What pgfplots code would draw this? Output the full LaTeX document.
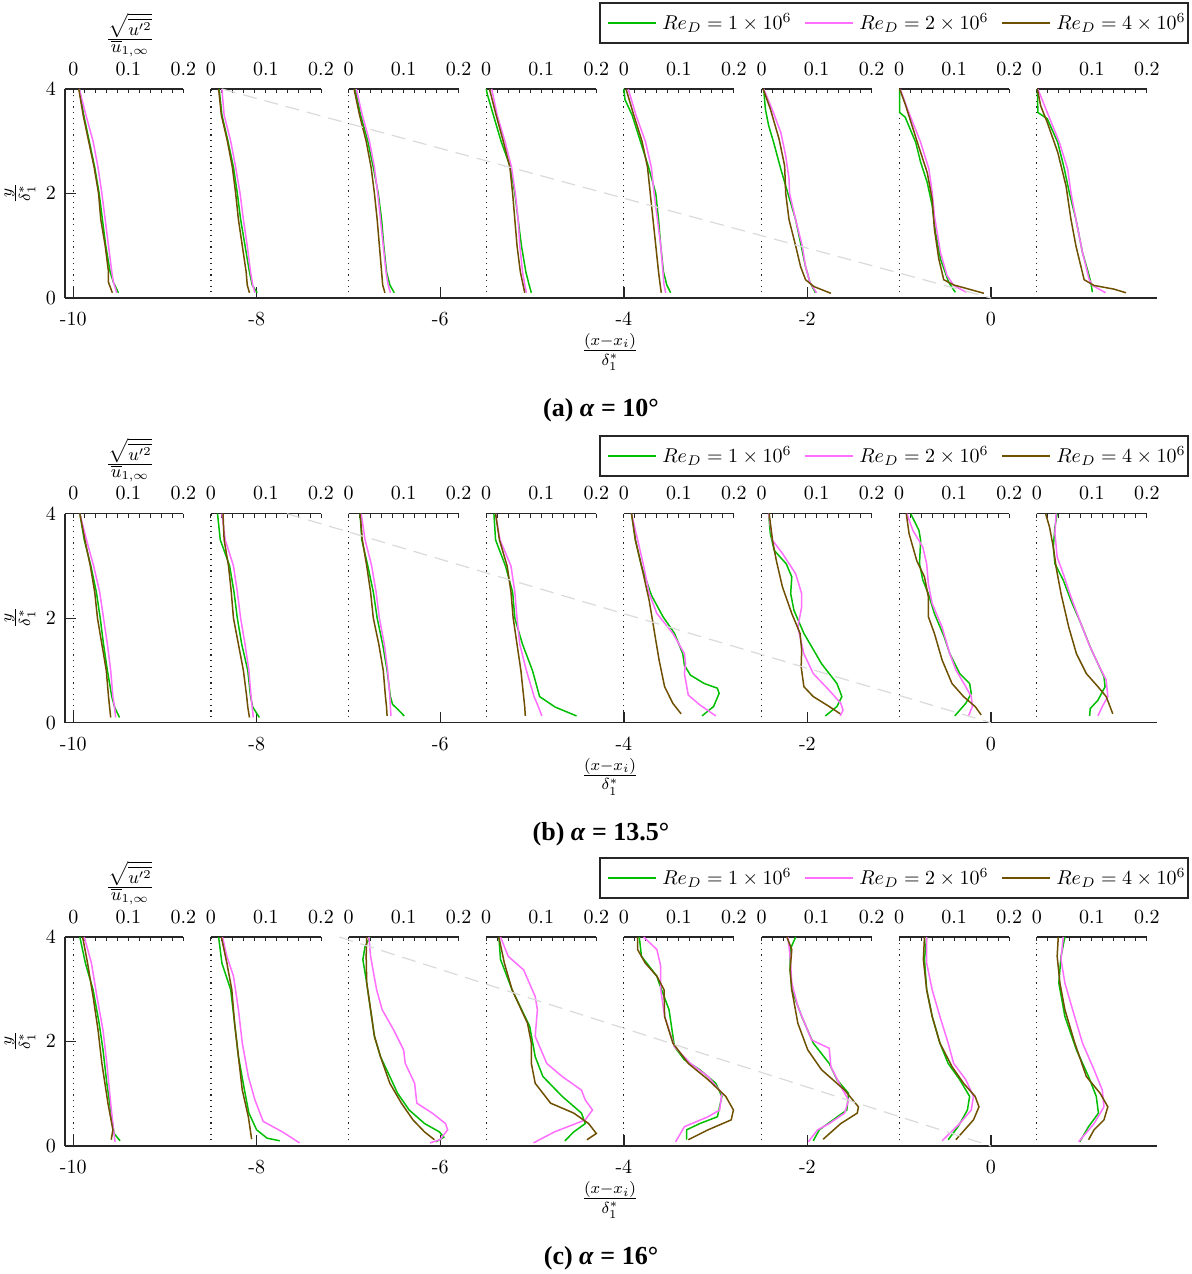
\documentclass[border=0pt]{standalone}
\usepackage{fontspec}
\newfontfamily\capfont{Liberation Serif}
\usepackage{pgfplots}
\pgfplotsset{compat=1.18}
\definecolor{cG}{RGB}{0,190,0}
\definecolor{cM}{RGB}{255,110,255}
\definecolor{cB}{RGB}{110,80,0}
\definecolor{axc}{RGB}{38,38,38}
\definecolor{dsh}{RGB}{218,218,218}
\newcommand\hy{\mathchar"02D\relax}
\newcommand\capstyle{\capfont\bfseries\fontsize{13}{15}\selectfont}
\pgfplotsset{
  st/.style={x filter/.code={\pgfmathparse{#1+6*\pgfmathresult}}},
  lG/.style={color=cG, line width=0.75pt},
  lM/.style={color=cM, line width=0.75pt},
  lB/.style={color=cB, line width=0.75pt},
  panel/.style={
    scale only axis, width=546pt, height=104.5pt,
    xmin=-10.09, xmax=1.81, ymin=0, ymax=4,
    axis lines=left, axis line style={-, axc, line width=0.65pt},
    tick align=inside, major tick length=5.5pt, tick style={axc, line width=0.65pt},
    xtick={-10,-8,-6,-4,-2,0},
    xticklabels={$\hy10$,$\hy8$,$\hy6$,$\hy4$,$\hy2$,$0$},
    ytick={0,2,4},
    xticklabel style={yshift=-4pt}, yticklabel style={xshift=-1pt},
    clip=false,
  },
}
\newcommand\station[4]{%
  \addplot[lG, forget plot, st=#1] coordinates {#2};
  \addplot[lM, forget plot, st=#1] coordinates {#3};
  \addplot[lB, forget plot, st=#1] coordinates {#4};
}
\newcommand\decor{%
  \draw[axc, line width=0.65pt] (axis cs:-10.09,4) -- (axis cs:-10,4);
  \pgfplotsforeachungrouped \xo in {-10,-8.5,-7,-5.5,-4,-2.5,-1,0.5}{%
    \pgfmathsetmacro\xb{\xo+0.6}%
    \pgfmathsetmacro\xc{\xo+1.2}%
    \edef\mytmp{\noexpand\draw[axc, line width=0.6pt, dash pattern=on 0.6pt off 2.2pt] (axis cs:\xo,0) -- (axis cs:\xo,4);
      \noexpand\draw[axc, line width=0.65pt] (axis cs:\xo,4) -- (axis cs:\xc,4);
      \noexpand\node[anchor=base, yshift=7pt] at (axis cs:\xo,4) {$0$};
      \noexpand\node[anchor=base, yshift=7pt] at (axis cs:\xb,4) {$0.1$};
      \noexpand\node[anchor=base, yshift=7pt] at (axis cs:\xc,4) {$0.2$};}%
    \mytmp
    \pgfplotsforeachungrouped \k in {0,1,2,3,4,5,6,7,8,9,10}{%
      \pgfmathsetmacro\xt{\xo+0.12*\k}%
      \edef\mytmp{\noexpand\draw[axc, line width=0.5pt] (axis cs:\xt,4) -- ++(0pt,-2pt);}%
      \mytmp}%
  }%
}
% legend box: #1 = vertical centre (pt)
\newcommand\legendbox[1]{%
  \draw[axc, line width=0.65pt, fill=white] (267.5pt,{#1pt-10pt}) rectangle (561.5pt,{#1pt+10pt});
  \draw[draw=cG, line width=0.75pt] (271.5pt,#1pt) -- (295.5pt,#1pt);
  \node[anchor=west, inner sep=0pt] at (298.5pt,#1pt) {$Re_D = 1\times10^6$};
  \draw[draw=cM, line width=0.75pt] (370pt,#1pt) -- (394pt,#1pt);
  \node[anchor=west, inner sep=0pt] at (397pt,#1pt) {$Re_D = 2\times10^6$};
  \draw[draw=cB, line width=0.75pt] (468.5pt,#1pt) -- (492.5pt,#1pt);
  \node[anchor=west, inner sep=0pt] at (495.5pt,#1pt) {$Re_D = 4\times10^6$};
}
\begin{document}
\begin{tikzpicture}
\useasboundingbox (-32.5pt,-488pt) rectangle (563pt,149pt);
% ---------------- panel (a)
\begin{axis}[panel, at={(0pt,0pt)}]
\decor
\station{-10}
{(0.011,4) (0.019,3.5) (0.029,3) (0.039,2.5) (0.047,2) (0.053,1.5) (0.059,1) (0.067,0.5) (0.073,0.3) (0.082,0.1)}
{(0.011,4) (0.023,3.5) (0.036,3) (0.045,2.5) (0.052,2) (0.058,1.5) (0.064,1) (0.070,0.5) (0.073,0.3) (0.079,0.1)}
{(0.010,4) (0.018,3.5) (0.028,3) (0.038,2.5) (0.046,2) (0.050,1.5) (0.058,1) (0.064,0.5) (0.064,0.3) (0.071,0.1)}
\station{-8.5}
{(0.015,4) (0.020,3.5) (0.031,3) (0.041,2.5) (0.048,2) (0.054,1.5) (0.062,1) (0.070,0.5) (0.075,0.25) (0.084,0.1)}
{(0.020,4) (0.024,3.5) (0.036,3) (0.045,2.5) (0.053,2) (0.059,1.5) (0.066,1) (0.072,0.5) (0.076,0.25) (0.080,0.1)}
{(0.014,4) (0.019,3.5) (0.030,3) (0.039,2.5) (0.045,2) (0.050,1.5) (0.057,1) (0.064,0.5) (0.066,0.25) (0.070,0.1)}
\station{-7}
{(0.012,4) (0.022,3.5) (0.035,3) (0.045,2.5) (0.054,2) (0.060,1.5) (0.064,1) (0.069,0.5) (0.075,0.25) (0.083,0.1)}
{(0.014,4) (0.025,3.5) (0.038,3) (0.047,2.5) (0.053,2) (0.058,1.5) (0.063,1) (0.068,0.5) (0.072,0.25) (0.076,0.1)}
{(0.010,4) (0.020,3.5) (0.032,3) (0.041,2.5) (0.047,2) (0.052,1.5) (0.056,1) (0.060,0.5) (0.062,0.25) (0.066,0.1)}
\station{-5.5}
{(0.000,4) (0.002,3.9) (0.013,3.5) (0.027,3) (0.044,2.5) (0.052,2) (0.058,1.5) (0.064,1) (0.072,0.5) (0.078,0.25) (0.082,0.1)}
{(0.010,4) (0.020,3.5) (0.034,3) (0.046,2.5) (0.053,2) (0.058,1.5) (0.061,1) (0.066,0.5) (0.070,0.25) (0.073,0.1)}
{(0.006,4) (0.018,3.5) (0.031,3) (0.043,2.5) (0.048,2) (0.052,1.5) (0.056,1) (0.062,0.5) (0.067,0.25) (0.070,0.1)}
\station{-4}
{(0.000,4) (0.002,3.8) (0.015,3.5) (0.030,3) (0.045,2.5) (0.058,2) (0.063,1.5) (0.067,1) (0.072,0.5) (0.078,0.25) (0.085,0.1)}
{(0.008,4) (0.022,3.5) (0.039,3) (0.050,2.5) (0.055,2) (0.061,1.5) (0.067,1) (0.071,0.5) (0.073,0.25) (0.076,0.1)}
{(0.004,4) (0.018,3.5) (0.033,3) (0.043,2.5) (0.048,2) (0.053,1.5) (0.058,1) (0.063,0.5) (0.066,0.25) (0.068,0.1)}
\station{-2.5}
{(0.004,4) (0.007,3.62) (0.013,3.3) (0.022,2.98) (0.035,2.47) (0.048,2) (0.062,1.5) (0.072,1) (0.080,0.6) (0.088,0.3) (0.098,0.1)}
{(0.004,4) (0.019,3.62) (0.035,3.17) (0.044,2.72) (0.050,2.28) (0.051,2) (0.062,1.5) (0.074,1) (0.080,0.6) (0.088,0.3) (0.100,0.1)}
{(0.003,4) (0.016,3.62) (0.032,3.04) (0.042,2.53) (0.044,2) (0.050,1.5) (0.062,1) (0.071,0.6) (0.080,0.35) (0.095,0.22) (0.126,0.09)}
\station{-1}
{(0.001,4) (0.001,3.55) (0.011,3.46) (0.030,2.98) (0.039,2.6) (0.051,2.21) (0.060,1.77) (0.066,1.26) (0.075,0.75) (0.090,0.3) (0.102,0.11)}
{(0.002,4) (0.015,3.62) (0.039,2.98) (0.054,2.47) (0.060,2.02) (0.064,1.58) (0.075,0.87) (0.087,0.43) (0.099,0.24) (0.122,0.11)}
{(0.001,4) (0.012,3.68) (0.033,2.98) (0.051,2.4) (0.060,1.89) (0.064,1.32) (0.072,0.75) (0.081,0.35) (0.099,0.25) (0.154,0.09)}
\station{0.5}
{(0.001,4) (0.002,3.55) (0.019,3.43) (0.038,2.98) (0.050,2.47) (0.059,2.02) (0.071,1.51) (0.083,0.87) (0.095,0.43) (0.098,0.30) (0.101,0.11)}
{(0.002,4) (0.019,3.55) (0.041,2.98) (0.056,2.47) (0.062,2.02) (0.071,1.51) (0.083,0.87) (0.095,0.36) (0.101,0.24) (0.125,0.1)}
{(0.001,4) (0.007,3.68) (0.019,3.36) (0.038,2.79) (0.053,2.15) (0.062,1.51) (0.071,1.0) (0.086,0.35) (0.104,0.24) (0.140,0.17) (0.162,0.1)}
\addplot[dsh, line width=0.6pt, dash pattern=on 7pt off 4pt, forget plot] coordinates {(-8.38,4) (0,0)};
\end{axis}
% ---------------- panel (b)
\begin{axis}[panel, at={(0pt,-212.35pt)}]
\decor
\station{-10}
{(0.012,4) (0.020,3.5) (0.032,3) (0.042,2.5) (0.049,2) (0.055,1.5) (0.062,1) (0.070,0.5) (0.075,0.3) (0.084,0.1)}
{(0.012,4) (0.024,3.5) (0.037,3) (0.048,2.5) (0.055,2) (0.062,1.5) (0.068,1) (0.072,0.5) (0.075,0.3) (0.077,0.1)}
{(0.012,4) (0.021,3.5) (0.031,3) (0.039,2.5) (0.044,2) (0.052,1.5) (0.060,1) (0.064,0.5) (0.066,0.3) (0.068,0.1)}
\station{-8.5}
{(0.012,4) (0.017,3.5) (0.034,3) (0.042,2.5) (0.048,2) (0.056,1.5) (0.067,1) (0.072,0.5) (0.076,0.3) (0.088,0.1)}
{(0.020,4) (0.026,3.5) (0.041,3) (0.048,2.5) (0.054,2) (0.062,1.5) (0.069,1) (0.073,0.5) (0.075,0.3) (0.077,0.1)}
{(0.022,4) (0.024,3.5) (0.032,3) (0.037,2.5) (0.041,2) (0.050,1.5) (0.059,1) (0.065,0.5) (0.067,0.3) (0.070,0.1)}
\station{-7}
{(0.021,4) (0.024,3.5) (0.035,3) (0.045,2.5) (0.052,2) (0.062,1.5) (0.070,1) (0.076,0.5) (0.080,0.35) (0.090,0.25) (0.101,0.13)}
{(0.023,4) (0.030,3.5) (0.042,3) (0.050,2.5) (0.056,2) (0.065,1.5) (0.071,1) (0.075,0.5) (0.076,0.3) (0.077,0.13)}
{(0.021,4) (0.025,3.5) (0.033,3) (0.040,2.5) (0.045,2) (0.055,1.5) (0.063,1) (0.067,0.5) (0.069,0.3) (0.070,0.13)}
\station{-5.5}
{(0.014,4) (0.017,3.5) (0.035,3) (0.048,2.5) (0.052,2) (0.066,1.5) (0.084,1) (0.097,0.5) (0.125,0.3) (0.164,0.13)}
{(0.017,4) (0.025,3.5) (0.045,3) (0.052,2.5) (0.056,2) (0.061,1.5) (0.073,1) (0.087,0.5) (0.095,0.3) (0.101,0.13)}
{(0.017,4) (0.024,3.5) (0.038,3) (0.045,2.5) (0.049,2) (0.056,1.5) (0.063,1) (0.068,0.5) (0.070,0.3) (0.071,0.13)}
\station{-4}
{(0.014,4) (0.021,3.5) (0.032,3) (0.050,2.44) (0.071,2.03) (0.092,1.71) (0.107,1.32) (0.110,1.10) (0.121,0.91) (0.146,0.75) (0.170,0.66) (0.173,0.56) (0.163,0.31) (0.142,0.13)}
{(0.014,4) (0.025,3.5) (0.036,3) (0.046,2.47) (0.060,2.09) (0.089,1.71) (0.110,1.32) (0.112,1.13) (0.110,0.94) (0.117,0.53) (0.138,0.34) (0.167,0.13)}
{(0.014,4) (0.021,3.49) (0.032,3) (0.046,2.34) (0.052,1.96) (0.057,1.64) (0.064,1.20) (0.074,0.69) (0.089,0.37) (0.104,0.17)}
\station{-2.5}
{(0.013,4) (0.016,3.62) (0.023,3.3) (0.045,3.04) (0.055,2.79) (0.053,2.47) (0.059,2.15) (0.077,1.71) (0.109,1.13) (0.137,0.75) (0.146,0.50) (0.137,0.31) (0.116,0.13)}
{(0.013,4) (0.020,3.49) (0.038,3.24) (0.062,2.85) (0.073,2.47) (0.073,2.22) (0.066,1.83) (0.077,1.32) (0.094,0.94) (0.123,0.62) (0.144,0.37) (0.148,0.24) (0.143,0.13)}
{(0.014,4) (0.020,3.49) (0.027,3.1) (0.038,2.6) (0.055,2.09) (0.070,1.71) (0.073,1.39) (0.072,1.07) (0.077,0.69) (0.094,0.50) (0.123,0.31) (0.143,0.17)}
\station{-1}
{(0.021,4) (0.036,3.68) (0.039,3.49) (0.037,3.04) (0.043,2.73) (0.053,2.47) (0.064,2.09) (0.082,1.64) (0.092,1.32) (0.110,0.94) (0.128,0.75) (0.131,0.56) (0.121,0.37) (0.101,0.13)}
{(0.014,4) (0.025,3.68) (0.043,3.36) (0.050,3.04) (0.053,2.66) (0.060,2.28) (0.078,1.83) (0.092,1.32) (0.103,1.01) (0.121,0.69) (0.131,0.50) (0.133,0.31) (0.126,0.13)}
{(0.013,4) (0.018,3.62) (0.032,3.1) (0.046,2.79) (0.053,2.41) (0.053,2.03) (0.064,1.71) (0.078,1.20) (0.096,0.75) (0.117,0.50) (0.138,0.31) (0.149,0.15)}
\station{0.5}
{(0.037,4) (0.033,3.75) (0.030,3.36) (0.033,3.04) (0.048,2.73) (0.062,2.34) (0.080,1.90) (0.097,1.45) (0.111,1.13) (0.122,0.88) (0.124,0.69) (0.111,0.43) (0.097,0.27) (0.096,0.13)}
{(0.035,4) (0.033,3.62) (0.037,3.17) (0.048,2.85) (0.062,2.41) (0.080,1.90) (0.094,1.52) (0.111,1.13) (0.126,0.82) (0.129,0.50) (0.119,0.31) (0.111,0.13)}
{(0.016,4) (0.023,3.75) (0.030,3.36) (0.035,2.98) (0.044,2.47) (0.058,1.83) (0.072,1.32) (0.090,0.94) (0.111,0.69) (0.126,0.50) (0.133,0.31) (0.138,0.17)}
\addplot[dsh, line width=0.6pt, dash pattern=on 7pt off 4pt, forget plot] coordinates {(-7.67,4) (0,0)};
\end{axis}
% ---------------- panel (c)
\begin{axis}[panel, at={(0pt,-424pt)}]
\decor
\station{-10}
{(0.012,4) (0.022,3.5) (0.036,2.99) (0.047,2.35) (0.054,1.84) (0.061,1.20) (0.068,0.69) (0.074,0.24) (0.085,0.1)}
{(0.020,4) (0.033,3.5) (0.043,2.86) (0.054,2.22) (0.061,1.58) (0.068,0.82) (0.073,0.31) (0.076,0.08)}
{(0.017,4) (0.026,3.5) (0.036,2.86) (0.045,2.22) (0.052,1.58) (0.063,0.82) (0.072,0.31) (0.069,0.12)}
\station{-8.5}
{(0.014,4) (0.020,3.5) (0.036,2.99) (0.043,2.35) (0.050,1.71) (0.061,1.07) (0.069,0.63) (0.083,0.31) (0.102,0.15) (0.125,0.1)}
{(0.021,4) (0.029,3.63) (0.041,3.25) (0.050,2.61) (0.057,1.97) (0.068,1.33) (0.080,0.88) (0.095,0.47) (0.130,0.27) (0.161,0.06)}
{(0.019,4) (0.029,3.5) (0.038,2.99) (0.043,2.35) (0.050,1.71) (0.057,1.07) (0.068,0.56) (0.074,0.13)}
\station{-7}
{(0.039,4) (0.030,3.82) (0.026,3.57) (0.033,3.12) (0.040,2.61) (0.047,2.10) (0.058,1.71) (0.075,1.33) (0.089,1.01) (0.110,0.69) (0.138,0.43) (0.165,0.27) (0.173,0.17) (0.159,0.08)}
{(0.037,4) (0.040,3.63) (0.051,2.99) (0.061,2.61) (0.082,2.22) (0.100,1.84) (0.103,1.58) (0.120,1.20) (0.124,0.82) (0.152,0.63) (0.176,0.43) (0.180,0.31) (0.166,0.12) (0.148,0.06)}
{(0.033,4) (0.032,3.63) (0.033,3.12) (0.040,2.61) (0.047,2.10) (0.058,1.71) (0.075,1.20) (0.096,0.82) (0.117,0.50) (0.138,0.27) (0.156,0.12)}
\station{-5.5}
{(0.023,4) (0.026,3.57) (0.047,2.99) (0.079,2.29) (0.089,1.71) (0.103,1.33) (0.138,0.95) (0.173,0.63) (0.180,0.43) (0.159,0.27) (0.143,0.1)}
{(0.026,4) (0.040,3.63) (0.068,3.37) (0.089,2.86) (0.093,2.61) (0.089,2.10) (0.110,1.58) (0.138,1.33) (0.173,1.07) (0.180,0.88) (0.193,0.69) (0.180,0.50) (0.124,0.27) (0.086,0.06)}
{(0.023,4) (0.033,3.5) (0.047,2.99) (0.075,2.35) (0.082,1.97) (0.082,1.58) (0.089,1.20) (0.117,0.82) (0.159,0.63) (0.186,0.43) (0.200,0.24) (0.183,0.12)}
\station{-4}
{(0.028,4) (0.032,3.63) (0.060,3.25) (0.064,3.12) (0.082,2.61) (0.092,1.90) (0.110,1.65) (0.138,1.46) (0.167,1.20) (0.178,0.95) (0.170,0.56) (0.138,0.43) (0.114,0.31) (0.114,0.12)}
{(0.036,4) (0.060,3.76) (0.067,3.44) (0.067,2.99) (0.074,2.48) (0.092,1.90) (0.121,1.58) (0.153,1.33) (0.178,1.01) (0.174,0.69) (0.153,0.56) (0.110,0.37) (0.094,0.08)}
{(0.025,4) (0.025,3.76) (0.039,3.50) (0.060,3.25) (0.073,2.99) (0.074,2.48) (0.089,1.97) (0.117,1.58) (0.153,1.27) (0.185,0.95) (0.199,0.69) (0.195,0.50) (0.153,0.31) (0.117,0.12)}
\station{-2.5}
{(0.062,4) (0.052,3.76) (0.052,3.37) (0.055,2.99) (0.073,2.48) (0.094,1.97) (0.123,1.58) (0.137,1.27) (0.158,1.01) (0.155,0.69) (0.130,0.50) (0.105,0.31) (0.094,0.1)}
{(0.048,4) (0.052,3.63) (0.055,3.12) (0.066,2.67) (0.091,2.03) (0.123,1.87) (0.126,1.52) (0.144,1.14) (0.158,0.88) (0.151,0.63) (0.123,0.43) (0.102,0.31) (0.085,0.08)}
{(0.046,4) (0.055,3.76) (0.052,3.37) (0.055,2.99) (0.066,2.35) (0.084,1.84) (0.109,1.46) (0.151,1.07) (0.176,0.75) (0.174,0.63) (0.144,0.43) (0.112,0.13)}
\station{-1}
{(0.050,4) (0.046,3.57) (0.050,2.99) (0.060,2.48) (0.074,1.97) (0.089,1.58) (0.110,1.27) (0.128,0.95) (0.124,0.69) (0.107,0.37) (0.089,0.12)}
{(0.050,4) (0.050,3.5) (0.060,2.99) (0.074,2.48) (0.089,1.97) (0.099,1.58) (0.121,1.27) (0.135,0.95) (0.131,0.69) (0.110,0.43) (0.078,0.1)}
{(0.046,4) (0.044,3.57) (0.050,2.99) (0.060,2.48) (0.074,1.97) (0.096,1.52) (0.117,1.20) (0.138,0.95) (0.145,0.75) (0.135,0.50) (0.103,0.12)}
\station{0.5}
{(0.051,4) (0.044,3.63) (0.040,3.12) (0.051,2.48) (0.072,1.84) (0.094,1.33) (0.108,0.95) (0.112,0.63) (0.094,0.37) (0.078,0.08)}
{(0.048,4) (0.044,3.57) (0.051,3.12) (0.065,2.61) (0.083,1.97) (0.104,1.46) (0.119,1.07) (0.122,0.75) (0.104,0.43) (0.076,0.08)}
{(0.039,4) (0.037,3.63) (0.042,3.12) (0.051,2.61) (0.069,1.97) (0.090,1.33) (0.115,1.01) (0.129,0.75) (0.122,0.50) (0.104,0.31) (0.094,0.12)}
\addplot[dsh, line width=0.6pt, dash pattern=on 7pt off 4pt, forget plot] coordinates {(-7.1,4) (0,0)};
\end{axis}
% ---------------- legends
\legendbox{137.5}
\legendbox{-79}
\legendbox{-290}
% ---------------- labels
\pgfplotsinvokeforeach{0,-212.35,-424}{%
  \node[rotate=90, inner sep=0pt, font=\fontsize{12}{14}\selectfont] at (-22.5pt,{52.5pt+#1pt}) {$\frac{y}{\delta_1^*}$};
  \node[inner sep=0pt, font=\fontsize{9}{11}\selectfont] at (32.5pt,{131.5pt+#1pt}) {$\frac{\textstyle\sqrt{\overline{u'^2}}}{\textstyle\overline{u}_{1,\infty}}$};
  \node[inner sep=0pt, font=\fontsize{12}{14}\selectfont] at (272.5pt,{-27pt+#1pt}) {$\frac{(x-x_i)}{\delta_1^*}$};
}
\node[font=\capstyle] at (268pt,-56pt) {(a) \textit{α} = 10°};
\node[font=\capstyle] at (268pt,-268.35pt) {(b) \textit{α} = 13.5°};
\node[font=\capstyle] at (268pt,-480pt) {(c) \textit{α} = 16°};
\end{tikzpicture}
\end{document}
